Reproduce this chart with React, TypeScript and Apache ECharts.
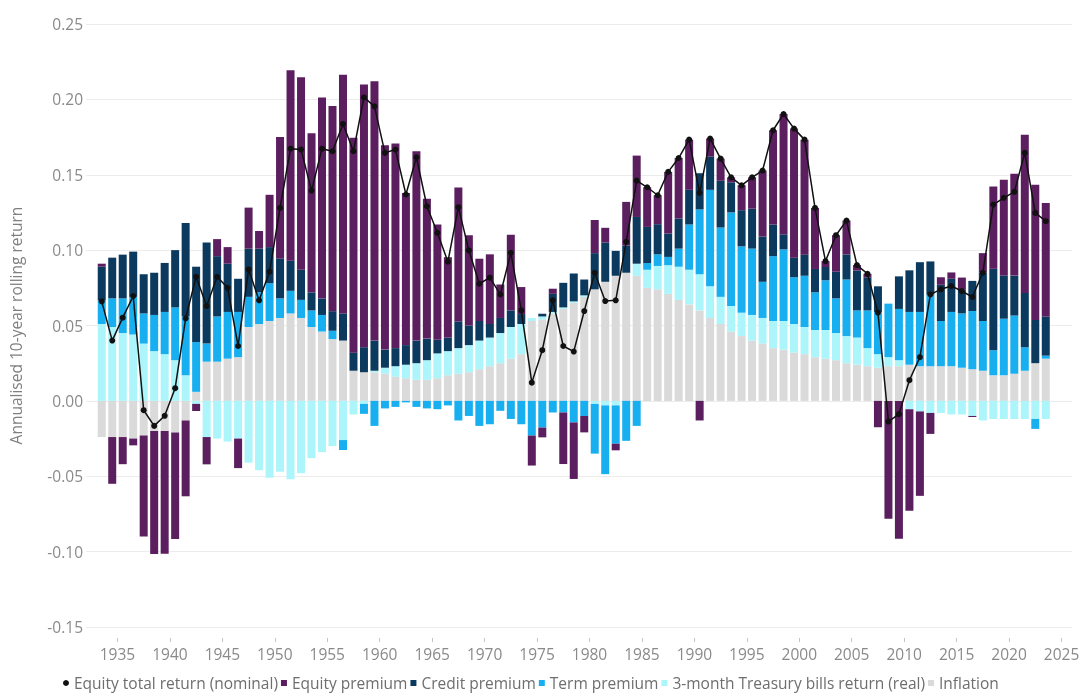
import React, { useEffect, useRef } from "react";
import * as echarts from "echarts";

// Years 1933..2023 (one bar per year)
const firstYear = 1933;

const inflation = [
  -0.024, -0.024, -0.024, -0.025, -0.023, -0.020, -0.020, -0.021, -0.013, 0.006,
  0.026, 0.026, 0.028, 0.029, 0.049, 0.051, 0.053, 0.055, 0.058, 0.055,
  0.049, 0.046, 0.041, 0.040, 0.020, 0.019, 0.019, 0.018, 0.016, 0.015,
  0.014, 0.014, 0.015, 0.017, 0.018, 0.019, 0.021, 0.023, 0.025, 0.028,
  0.031, 0.053, 0.054, 0.058, 0.061, 0.065, 0.069, 0.074, 0.079, 0.083,
  0.085, 0.083, 0.075, 0.074, 0.071, 0.067, 0.064, 0.060, 0.055, 0.051,
  0.046, 0.043, 0.040, 0.038, 0.035, 0.034, 0.032, 0.031, 0.029, 0.028,
  0.027, 0.025, 0.024, 0.023, 0.022, 0.023, 0.023, 0.024, 0.023, 0.023,
  0.023, 0.023, 0.022, 0.021, 0.020, 0.017, 0.017, 0.018, 0.020, 0.025,
  0.028,
];

const tbillsReal = [
  0.051, 0.049, 0.045, 0.044, 0.038, 0.033, 0.031, 0.027, 0.017, -0.002,
  -0.024, -0.025, -0.027, -0.025, -0.041, -0.046, -0.051, -0.047, -0.052, -0.048,
  -0.038, -0.034, -0.030, -0.026, -0.009, -0.002, 0.001, 0.004, 0.007, 0.009,
  0.011, 0.013, 0.0165, 0.016, 0.017, 0.018, 0.019, 0.019, 0.020, 0.021,
  0.020, 0.002, 0.002, 0.001, 0.001, 0.001, 0.001, -0.002, -0.003, -0.003,
  0.000, 0.008, 0.012, 0.0155, 0.019, 0.022, 0.023, 0.024, 0.021, 0.018,
  0.017, 0.0155, 0.017, 0.017, 0.018, 0.019, 0.019, 0.018, 0.018, 0.019,
  0.018, 0.018, 0.018, 0.012, 0.009, 0.006, 0.004, -0.0055, -0.007, -0.008,
  -0.008, -0.009, -0.009, -0.010, -0.013, -0.012, -0.012, -0.012, -0.012, -0.012,
  -0.012,
];

const termPremium = [
  0.0155, 0.019, 0.023, 0.025, 0.020, 0.024, 0.028, 0.035, 0.039, 0.033,
  0.012, 0.030, 0.031, 0.030, 0.020, 0.021, 0.025, 0.013, 0.015, 0.012,
  0.011, 0.011, 0.0055, -0.0066, 0.000, -0.0066, -0.0166, -0.005, -0.004, -0.001,
  -0.004, -0.005, -0.0055, -0.003, -0.013, -0.010, -0.0166, -0.0155, -0.0066, -0.012,
  -0.0155, -0.023, -0.0177, -0.0077, -0.0077, -0.0143, -0.010, -0.033, -0.0456, -0.0254,
  -0.0265, -0.0166, 0.0044, 0.0077, 0.0055, 0.012, 0.030, 0.043, 0.064, 0.046,
  0.062, 0.044, 0.044, 0.024, 0.043, 0.0475, 0.031, 0.034, 0.025, 0.033,
  0.023, 0.0375, 0.018, 0.025, 0.028, 0.0355, 0.034, 0.035, 0.036, 0.0475,
  0.030, 0.036, 0.036, 0.0386, 0.033, 0.0166, 0.0375, 0.0386, 0.0155, -0.0066,
  0.002,
];

const creditPremium = [
  0.0225, 0.027, 0.029, 0.030, 0.026, 0.028, 0.0325, 0.038, 0.062, 0.050,
  0.067, 0.040, 0.032, 0.022, 0.032, 0.029, 0.024, 0.0265, 0.020, 0.020,
  0.012, 0.011, 0.013, 0.018, 0.012, 0.0166, 0.020, 0.012, 0.012, 0.013,
  0.015, 0.0143, 0.009, 0.009, 0.0177, 0.013, 0.013, 0.009, 0.010, 0.011,
  0.0066, 0.000, 0.0018, 0.012, 0.0163, 0.0185, 0.0105, 0.024, 0.026, 0.0165,
  0.018, 0.031, 0.024, 0.020, 0.0155, 0.020, 0.023, 0.024, 0.022, 0.031,
  0.020, 0.024, 0.0265, 0.030, 0.021, 0.010, 0.013, 0.014, 0.0155, 0.0088,
  0.0177, 0.0166, 0.0265, 0.022, 0.017, 0.000, 0.0216, 0.0276, 0.033, 0.022,
  0.024, 0.022, 0.016, 0.020, 0.032, 0.054, 0.0287, 0.0265, 0.036, 0.0287,
  0.026,
];

const equityPremium = [
  0.002, -0.031, -0.018, -0.0045, -0.067, -0.0816, -0.0814, -0.0706, -0.0503, -0.0047,
  -0.0181, 0.0113, 0.011, -0.0196, 0.0272, 0.0117, 0.0347, 0.0805, 0.1263, 0.1277,
  0.1055, 0.1333, 0.1361, 0.1583, 0.1426, 0.1743, 0.172, 0.1355, 0.1357, 0.1009,
  0.1256, 0.0928, 0.0765, 0.0533, 0.0888, 0.0598, 0.0413, 0.0462, 0.0222, 0.0502,
  0.0179, -0.0199, -0.0065, 0.0034, -0.0342, -0.0375, -0.0109, 0.022, 0.0098, -0.0044,
  0.029, 0.0407, 0.0263, 0.0192, 0.0409, 0.0401, 0.0333, -0.013, 0.012, 0.0147,
  0.0033, 0.0165, 0.0208, 0.0438, 0.0625, 0.0798, 0.0856, 0.0763, 0.0405, 0.0039,
  0.0242, 0.0225, 0.0036, 0.0023, -0.0175, -0.0782, -0.0914, -0.0674, -0.056, -0.0139,
  0.005, 0.0042, 0.0078, -0.0007, 0.013, 0.0546, 0.0635, 0.0675, 0.105, 0.0896,
  0.0752,
];

const equityTotalReturn = [
  0.066, 0.040, 0.0552, 0.0695, -0.0062, -0.0166, -0.0099, 0.0084, 0.0547, 0.0823,
  0.0629, 0.0823, 0.075, 0.0364, 0.0872, 0.0667, 0.0857, 0.128, 0.1673, 0.1667,
  0.1395, 0.1673, 0.1656, 0.1837, 0.1656, 0.2013, 0.1954, 0.1645, 0.1667, 0.1369,
  0.1616, 0.1291, 0.1115, 0.0923, 0.1285, 0.0998, 0.0777, 0.0817, 0.0706, 0.0982,
  0.060, 0.0121, 0.0336, 0.0667, 0.0364, 0.0327, 0.0596, 0.085, 0.0662, 0.0667,
  0.1055, 0.1461, 0.1417, 0.1364, 0.1519, 0.1611, 0.1733, 0.138, 0.174, 0.1607,
  0.1483, 0.143, 0.1483, 0.1528, 0.1795, 0.1903, 0.1806, 0.1733, 0.128, 0.0927,
  0.1099, 0.1196, 0.0901, 0.0843, 0.0585, -0.0137, -0.0088, 0.0137, 0.029, 0.0706,
  0.074, 0.0762, 0.0728, 0.0689, 0.085, 0.1302, 0.1347, 0.1386, 0.1645, 0.1247,
  0.1192,
];

const xTickYears = [1935, 1940, 1945, 1950, 1955, 1960, 1965, 1970, 1975, 1980, 1985, 1990, 1995, 2000, 2005, 2010, 2015, 2020, 2025];

const seriesNames = {
  total: "Equity total return (nominal)",
  equity: "Equity premium",
  credit: "Credit premium",
  term: "Term premium",
  tbills: "3-month Treasury bills return (real)",
  inflation: "Inflation",
};

const colors = {
  total: "#111111",
  equity: "#5b1e5f",
  credit: "#0b3a5e",
  term: "#17aff0",
  tbills: "#abf5fb",
  inflation: "#dadada",
};

export default function App() {
  const ref = useRef<HTMLDivElement>(null);

  useEffect(() => {
    if (!ref.current) return;
    const chart = echarts.init(ref.current, null, { renderer: "svg" });
    const n = inflation.length;
    // one empty slot before the first year and two after the last, so the plot spans 1932–2025
    const categories: string[] = [];
    for (let y = firstYear - 1; y <= firstYear + n + 1; y++) categories.push(String(y));
    const pad = (arr: number[]) => [null, ...arr, null, null];

    const bar = (name: string, data: number[], color: string) => ({
      type: "bar",
      name,
      stack: "total",
      data: pad(data),
      barWidth: 8,
      itemStyle: { color },
      emphasis: { disabled: true },
    });

    const fontFamily = "'Open Sans', 'Noto Sans', sans-serif";
    const fs = 15.5;

    chart.setOption({
      animation: false,
      textStyle: { fontFamily },
      grid: { left: 83, right: 11, top: 24, bottom: 68, containLabel: false },
      legend: {
        left: 63,
        top: 675,
        itemWidth: 6,
        itemHeight: 6,
        itemGap: 3,
        padding: 0,
        textStyle: { fontSize: fs, color: "#6e6e6e", fontFamily },
        data: [
          { name: seriesNames.total, icon: "circle" },
          { name: seriesNames.equity, icon: "rect" },
          { name: seriesNames.credit, icon: "rect" },
          { name: seriesNames.term, icon: "rect" },
          { name: seriesNames.tbills, icon: "rect" },
          { name: seriesNames.inflation, icon: "rect" },
        ],
      },
      xAxis: [
        {
          type: "category",
          data: categories,
          boundaryGap: true,
          show: false,
        },
        {
          type: "value",
          min: 1932,
          max: 2026,
          position: "bottom",
          offset: 11,
          axisLine: { show: false },
          axisTick: {
            show: true,
            length: 4,
            customValues: xTickYears,
            lineStyle: { color: "#c4c4c4" },
          },
          axisLabel: {
            customValues: xTickYears,
            color: "#8a8a8a",
            fontSize: fs,
            margin: 8,
            formatter: (v: number) => String(v),
          },
          splitLine: { show: false },
        },
      ],
      yAxis: {
        type: "value",
        min: -0.15,
        max: 0.25,
        interval: 0.05,
        name: "Annualised 10-year rolling return",
        nameLocation: "middle",
        nameGap: 62,
        nameTextStyle: { fontSize: fs, color: "#808080", fontFamily },
        axisLine: { show: false },
        axisTick: { show: false },
        axisLabel: {
          color: "#8a8a8a",
          fontSize: fs,
          margin: 3,
          formatter: (v: number) => v.toFixed(2),
        },
        splitLine: { lineStyle: { color: "#ececec", width: 1 } },
      },
      series: [
        bar(seriesNames.inflation, inflation, colors.inflation),
        bar(seriesNames.tbills, tbillsReal, colors.tbills),
        bar(seriesNames.term, termPremium, colors.term),
        bar(seriesNames.credit, creditPremium, colors.credit),
        bar(seriesNames.equity, equityPremium, colors.equity),
        {
          type: "line",
          name: seriesNames.total,
          data: pad(equityTotalReturn),
          symbol: "circle",
          symbolSize: 6,
          showAllSymbol: true,
          itemStyle: { color: colors.total },
          lineStyle: { color: colors.total, width: 1.5 },
          z: 10,
          emphasis: { disabled: true },
        },
      ],
    });

    return () => chart.dispose();
  }, []);

  return (
    <div
      ref={ref}
      style={{ position: "fixed", left: 0, top: 0, width: 1083, height: 695 }}
    />
  );
}
